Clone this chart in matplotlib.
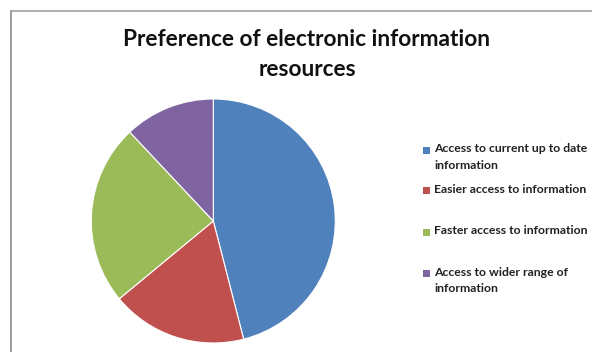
import matplotlib.pyplot as plt
from matplotlib.patches import Rectangle
from matplotlib.lines import Line2D

# data (percent shares)
labels = ['Access to current up to date\ninformation',
          'Easier access to information',
          'Faster access to information',
          'Access to wider range of\ninformation']
values = [46, 18, 24, 12]
colors = ['#4F81BD', '#C0504D', '#9BBB59', '#8064A2']

W, H = 592, 352
fig = plt.figure(figsize=(W / 100, H / 100), dpi=100)
plt.rcParams['font.family'] = ['Lato', 'DejaVu Sans']

# pie area: center (213, 221), radius ~122 px
r = 122
cx, cy = 213.3, 221
ax = fig.add_axes([(cx - r) / W, 1 - (cy + r) / H, 2 * r / W, 2 * r / H])
ax.pie(values, colors=colors, startangle=90, counterclock=False,
       wedgeprops=dict(edgecolor='white', linewidth=0.8))
ax.set_xlim(-1, 1)
ax.set_ylim(-1, 1)
ax.set_aspect('auto')
ax.axis('off')

# chart frame (left and top edges visible)
fig.add_artist(Line2D([10.5 / W, 10.5 / W], [0, 1 - 10.5 / H],
                      color='#8c8c8c', lw=1.2, transform=fig.transFigure))
fig.add_artist(Line2D([10.5 / W, 1], [1 - 10.5 / H, 1 - 10.5 / H],
                      color='#a0a0a0', lw=1.2, transform=fig.transFigure))

# title
fig.text(307 / W, 1 - 39 / H, 'Preference of electronic information',
         ha='center', va='center', fontsize=16.3, fontweight='bold', color='#111111')
fig.text(307 / W, 1 - 70 / H, 'resources',
         ha='center', va='center', fontsize=16.3, fontweight='bold', color='#111111')

# legend, drawn by hand so the marker sits on the first line
legend_y = [150, 190, 232, 273]
for lab, col, y in zip(labels, colors, legend_y):
    fig.add_artist(Rectangle((423 / W, 1 - (y + 3.5) / H), 7 / W, 7 / H,
                             facecolor=col, edgecolor='none', transform=fig.transFigure))
    fig.text(434 / W, 1 - (y - 6.5) / H, lab, ha='left', va='top',
             fontsize=8.8, fontweight='bold', color='#222222', linespacing=1.6)

fig.savefig('out.png', dpi=100)
